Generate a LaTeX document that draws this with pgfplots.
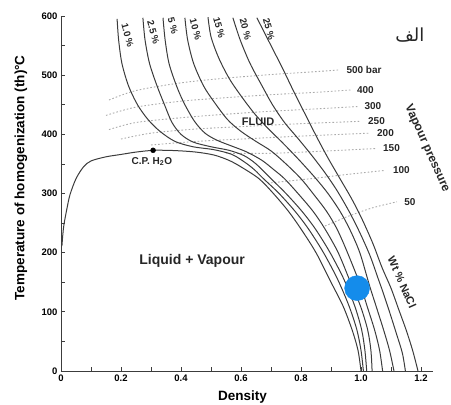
\documentclass[border=0pt]{standalone}
\usepackage{pgfplots}
\pgfplotsset{compat=1.18}
\usepackage{fontspec}
\setmainfont{Liberation Sans}
\newfontfamily\arabicfont[Script=Arabic]{DejaVu Sans}
\TeXXeTstate=1
\definecolor{curve}{HTML}{3C3C3C}
\definecolor{isob}{HTML}{ABABAB}
\definecolor{dotblue}{RGB}{20,140,235}
\tikzset{lbl/.style={font=\fontsize{9.5}{11}\selectfont\bfseries, color=black!85}}
\begin{document}
\begin{tikzpicture}
\begin{axis}[
  name=ax, at={(0,0)}, anchor=south west,
  scale only axis, width=372pt, height=355pt,
  xmin=0, xmax=1.24, ymin=0, ymax=600,
  axis lines=left, axis line style={-, color=curve, line width=0.9pt},
  clip=false,
  xtick={0,0.2,0.4,0.6,0.8,1.0,1.2}, xticklabels={0,0.2,0.4,0.6,0.8,1.0,1.2},
  minor xtick={0.1,0.3,0.5,0.7,0.9,1.1},
  ytick={0,100,200,300,400,500,600}, minor ytick={50,150,250,350,450,550},
  tick align=inside, major tick length=4pt, minor tick length=4pt,
  tick style={color=curve, line width=0.8pt},
  ticklabel style={font=\fontsize{9.5}{11}\selectfont\bfseries},
  /pgf/number format/assume math mode=true,
  xlabel={Density}, ylabel={Temperature of homogenization (th)°C},
  label style={font=\fontsize{13.5}{15}\selectfont\bfseries},
  xlabel style={at={(axis description cs:0.488,-0.073)}, anchor=center},
  ylabel style={at={(axis description cs:-0.1075,0.544)}, anchor=center},
  iso/.style={color=curve, line width=1pt, smooth, tension=0.5, no marks},
  bar/.style={color=isob, line width=0.9pt, dash pattern=on 1.6pt off 2pt, smooth, tension=0.5, no marks},
]
% isobars
\addplot[bar] coordinates {(0.16,458)(0.25,474)(0.4,487)(0.55,495)(0.7,501)(0.85,506)(0.93,509)};
\addplot[bar] coordinates {(0.15,432)(0.25,446)(0.4,456)(0.55,462)(0.7,467)(0.85,471)(0.965,475)};
\addplot[bar] coordinates {(0.16,408)(0.25,420)(0.4,428)(0.55,434)(0.7,439)(0.85,443)(0.99,447)};
\addplot[bar] coordinates {(0.2,392)(0.3,402)(0.45,409)(0.6,413)(0.8,418)(1.0,422)};
\addplot[bar] coordinates {(0.3,382)(0.45,388)(0.6,392)(0.8,397)(1.03,402)};
\addplot[bar] coordinates {(0.55,368)(0.7,368)(0.85,371)(1.05,376)};
\addplot[bar] coordinates {(0.7,318)(0.85,326)(0.95,332)(1.08,339)};
\addplot[bar] coordinates {(0.88,245)(0.96,262)(1.04,276)(1.12,286)};
% water liquid-vapour curve
\addplot[iso] coordinates {(0.003,211)(0.006,230)(0.01,248)(0.02,275)(0.03,298)(0.05,325)(0.075,345)(0.10,355)(0.15,362)(0.2,366)(0.25,370)(0.31,373)(0.38,372.5)(0.45,370)(0.51,365)(0.56,356)(0.60,345)(0.66,325)(0.708,300)(0.758,270)(0.80,240)(0.85,200)(0.90,150)(0.94,110)(0.97,70)(0.99,35)(1.0,0)};
% isopleths (1.0, 2.5, 5, 10, 15, 20, 25 wt% NaCl)
\addplot[iso] coordinates {(0.187,595)(0.192,560)(0.203,520)(0.225,482)(0.255,450)(0.29,425)(0.33,405)(0.38,388)(0.44,379)(0.51,374)(0.57,366)(0.615,352)(0.645,340)(0.675,325)(0.727,300)(0.78,270)(0.825,240)(0.875,200)(0.922,155)(0.96,110)(0.986,70)(1.0,35)(1.008,0)};
\addplot[iso] coordinates {(0.273,597)(0.28,560)(0.295,520)(0.32,482)(0.345,450)(0.37,420)(0.40,400)(0.44,387)(0.50,379)(0.56,373)(0.61,364)(0.65,350)(0.70,325)(0.75,300)(0.803,270)(0.848,240)(0.897,200)(0.943,155)(0.979,110)(1.002,70)(1.013,35)(1.019,0)};
\addplot[iso] coordinates {(0.34,597)(0.347,560)(0.36,520)(0.385,482)(0.41,453)(0.445,422)(0.48,402)(0.52,390)(0.57,380)(0.62,370)(0.67,356)(0.71,340)(0.745,325)(0.79,300)(0.84,270)(0.88,240)(0.924,200)(0.965,150)(0.998,110)(1.022,70)(1.033,35)(1.037,0)};
\addplot[iso] coordinates {(0.413,597)(0.422,560)(0.442,520)(0.475,482)(0.51,455)(0.555,425)(0.60,405)(0.65,388)(0.70,372)(0.75,350)(0.80,325)(0.84,300)(0.885,270)(0.92,240)(0.955,200)(0.998,145)(1.02,110)(1.045,70)(1.062,35)(1.072,0)};
\addplot[iso] coordinates {(0.49,598)(0.50,565)(0.525,530)(0.56,495)(0.60,465)(0.645,435)(0.69,410)(0.74,385)(0.795,356)(0.85,325)(0.89,300)(0.93,270)(0.962,240)(0.996,200)(1.028,145)(1.05,110)(1.075,70)(1.095,35)(1.11,0)};
\addplot[iso] coordinates {(0.573,597)(0.597,560)(0.63,520)(0.67,482)(0.705,450)(0.745,420)(0.79,393)(0.835,365)(0.88,335)(0.92,305)(0.96,270)(0.995,235)(1.03,195)(1.058,155)(1.07,138)(1.095,100)(1.12,60)(1.138,30)(1.148,0)};
\addplot[iso] coordinates {(0.653,597)(0.695,555)(0.74,510)(0.78,468)(0.82,428)(0.855,393)(0.89,360)(0.93,325)(0.97,290)(1.005,255)(1.04,215)(1.07,175)(1.1,140)(1.125,105)(1.15,70)(1.172,35)(1.19,0)};
% points
\addplot[only marks, mark=*, mark size=2.5pt, color=black] coordinates {(0.307,373)};
\addplot[only marks, mark=*, mark size=12.5pt, color=dotblue, mark options={draw=dotblue, fill=dotblue}] coordinates {(0.987,140)};
% curve labels
\node[lbl, rotate=-75] at (axis cs:0.222,567) {1.0 \%};
\node[lbl, rotate=-75] at (axis cs:0.308,572) {2.5 \%};
\node[lbl, rotate=-75] at (axis cs:0.373,584) {5 \%};
\node[lbl, rotate=-75] at (axis cs:0.449,577) {10 \%};
\node[lbl, rotate=-75] at (axis cs:0.527,580) {15 \%};
\node[lbl, rotate=-75] at (axis cs:0.615,578) {20 \%};
\node[lbl, rotate=-75] at (axis cs:0.693,578) {25 \%};
% isobar labels
\node[lbl, anchor=west, font=\fontsize{10}{12}\selectfont\bfseries] at (axis cs:0.94,509) {500 bar};
\node[lbl, anchor=west, font=\fontsize{10}{12}\selectfont\bfseries] at (axis cs:0.975,475) {400};
\node[lbl, anchor=west, font=\fontsize{10}{12}\selectfont\bfseries] at (axis cs:1.0,447) {300};
\node[lbl, anchor=west, font=\fontsize{10}{12}\selectfont\bfseries] at (axis cs:1.012,422) {250};
\node[lbl, anchor=west, font=\fontsize{10}{12}\selectfont\bfseries] at (axis cs:1.042,402) {200};
\node[lbl, anchor=west, font=\fontsize{10}{12}\selectfont\bfseries] at (axis cs:1.062,376) {150};
\node[lbl, anchor=west, font=\fontsize{10}{12}\selectfont\bfseries] at (axis cs:1.095,339) {100};
\node[lbl, anchor=west, font=\fontsize{10}{12}\selectfont\bfseries] at (axis cs:1.133,286) {50};
% other text
\node[lbl, font=\fontsize{11}{13}\selectfont\bfseries] at (axis cs:0.657,422) {FLUID};
\node[lbl, font=\fontsize{10}{12}\selectfont\bfseries] at (axis cs:0.303,354) {C.P. H\textsubscript{2}O};
\node[lbl, font=\fontsize{14}{16}\selectfont\bfseries] at (axis cs:0.437,186) {Liquid + Vapour};
\node[lbl, rotate=-66, font=\fontsize{12}{14}\selectfont\bfseries] at (axis cs:1.22,376) {Vapour pressure};
\node[lbl, rotate=-66, font=\fontsize{11}{13}\selectfont\bfseries] at (axis cs:1.137,150) {Wt \% NaCl};
\node[font=\fontsize{18}{20}\selectfont, color=black!85] at (axis cs:1.163,567) {\arabicfont\beginR الف\endR};
\end{axis}
\pgfresetboundingbox
\path (ax.south west) ++(-61pt,-34pt) rectangle ([xshift=18pt,yshift=16pt]ax.north east);
\end{tikzpicture}
\end{document}
